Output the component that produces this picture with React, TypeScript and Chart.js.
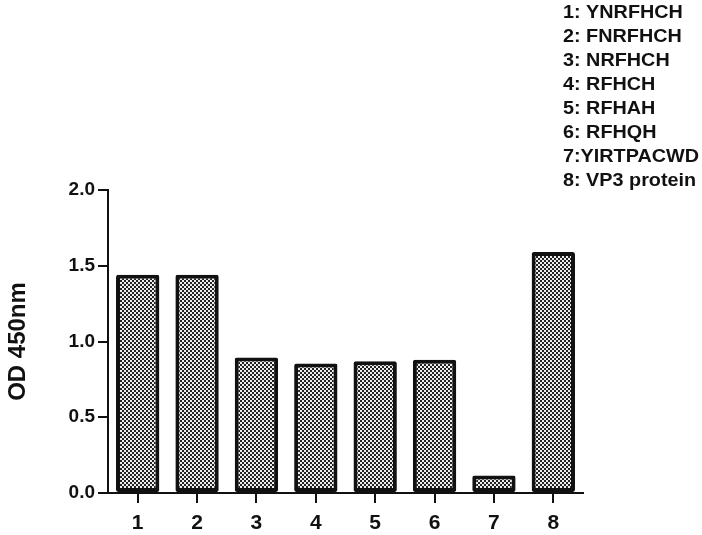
import React, { useEffect, useRef } from "react";
import { Chart, registerables } from "chart.js";

Chart.register(...registerables);

const categories = ["1", "2", "3", "4", "5", "6", "7", "8"];
const odValues = [1.44, 1.44, 0.895, 0.855, 0.87, 0.88, 0.115, 1.59];
const yTicks = [0, 0.5, 1.0, 1.5, 2.0];
const legendLines = [
  "1: YNRFHCH",
  "2: FNRFHCH",
  "3: NRFHCH",
  "4: RFHCH",
  "5: RFHAH",
  "6: RFHQH",
  "7:YIRTPACWD",
  "8: VP3 protein",
];
const yTitle = "OD 450nm";

const FONT = "'Liberation Sans', Arial, 'DejaVu Sans', sans-serif";

function makePattern(): CanvasPattern | string {
  const c = document.createElement("canvas");
  c.width = 4;
  c.height = 4;
  const g = c.getContext("2d");
  if (!g) return "#888";
  g.fillStyle = "#eeeeee";
  g.fillRect(0, 0, 4, 4);
  g.fillStyle = "#222222";
  g.fillRect(0, 0, 2, 2);
  g.fillRect(2, 2, 2, 2);
  const p = g.createPattern(c, "repeat");
  return p || "#888";
}

const textPlugin = {
  id: "legendText",
  afterDraw(chart: any) {
    const ctx = chart.ctx;
    ctx.save();
    ctx.fillStyle = "#111";
    ctx.font = `bold 18px ${FONT}`;
    ctx.textAlign = "left";
    ctx.textBaseline = "alphabetic";
    ctx.translate(563, 0);
    ctx.scale(1.1, 1);
    legendLines.forEach((t, i) => {
      ctx.fillText(t, 0, 18 + i * 24);
    });
    ctx.restore();
  },
};

export default function App() {
  const ref = useRef<HTMLCanvasElement | null>(null);
  useEffect(() => {
    if (!ref.current) return;
    const pattern = makePattern();
    const chart = new Chart(ref.current, {
      type: "bar",
      data: {
        labels: categories,
        datasets: [
          {
            data: odValues,
            backgroundColor: pattern as any,
            borderColor: "#111",
            borderWidth: 4,
            borderSkipped: false,
            borderRadius: 2,
            barPercentage: 0.73,
            categoryPercentage: 1,
          },
        ],
      },
      options: {
        responsive: false,
        animation: false,
        layout: { padding: { left: 0, top: 190, right: 119, bottom: 0 } },
        plugins: {
          legend: { display: false },
          tooltip: { enabled: false },
        },
        scales: {
          x: {
            offset: true,
            grid: {
              display: true,
              drawOnChartArea: false,
              drawTicks: true,
              tickLength: 10,
              color: "#111",
              lineWidth: 2,
              offset: false,
            },
            border: { display: true, color: "#111", width: 2 },
            ticks: {
              color: "#111",
              font: { family: FONT, size: 21, weight: "bold" },
              padding: 8,
            },
            afterFit: (s: any) => {
              s.height = 42;
            },
          },
          y: {
            min: 0,
            max: 2,
            afterBuildTicks: (s: any) => {
              s.ticks = yTicks.map((v) => ({ value: v }));
            },
            grid: {
              display: true,
              drawOnChartArea: false,
              drawTicks: true,
              tickLength: 10,
              color: "#111",
              lineWidth: 2,
            },
            border: { display: true, color: "#111", width: 2 },
            ticks: {
              color: "#111",
              font: { family: FONT, size: 19, weight: "bold" },
              padding: 3,
              callback: (v: any) => Number(v).toFixed(1),
            },
            title: {
              display: true,
              text: yTitle,
              color: "#111",
              font: { family: FONT, size: 24, weight: "bold" },
              padding: { top: 4, bottom: 4 },
            },
            afterFit: (s: any) => {
              s.width = 108;
            },
          },
        },
      },
      plugins: [textPlugin],
    });
    return () => chart.destroy();
  }, []);
  return (
    <div style={{ position: "fixed", left: 0, top: 0, width: 702, height: 535, background: "#fff" }}>
      <canvas ref={ref} width={702} height={535} style={{ display: "block" }} />
    </div>
  );
}
